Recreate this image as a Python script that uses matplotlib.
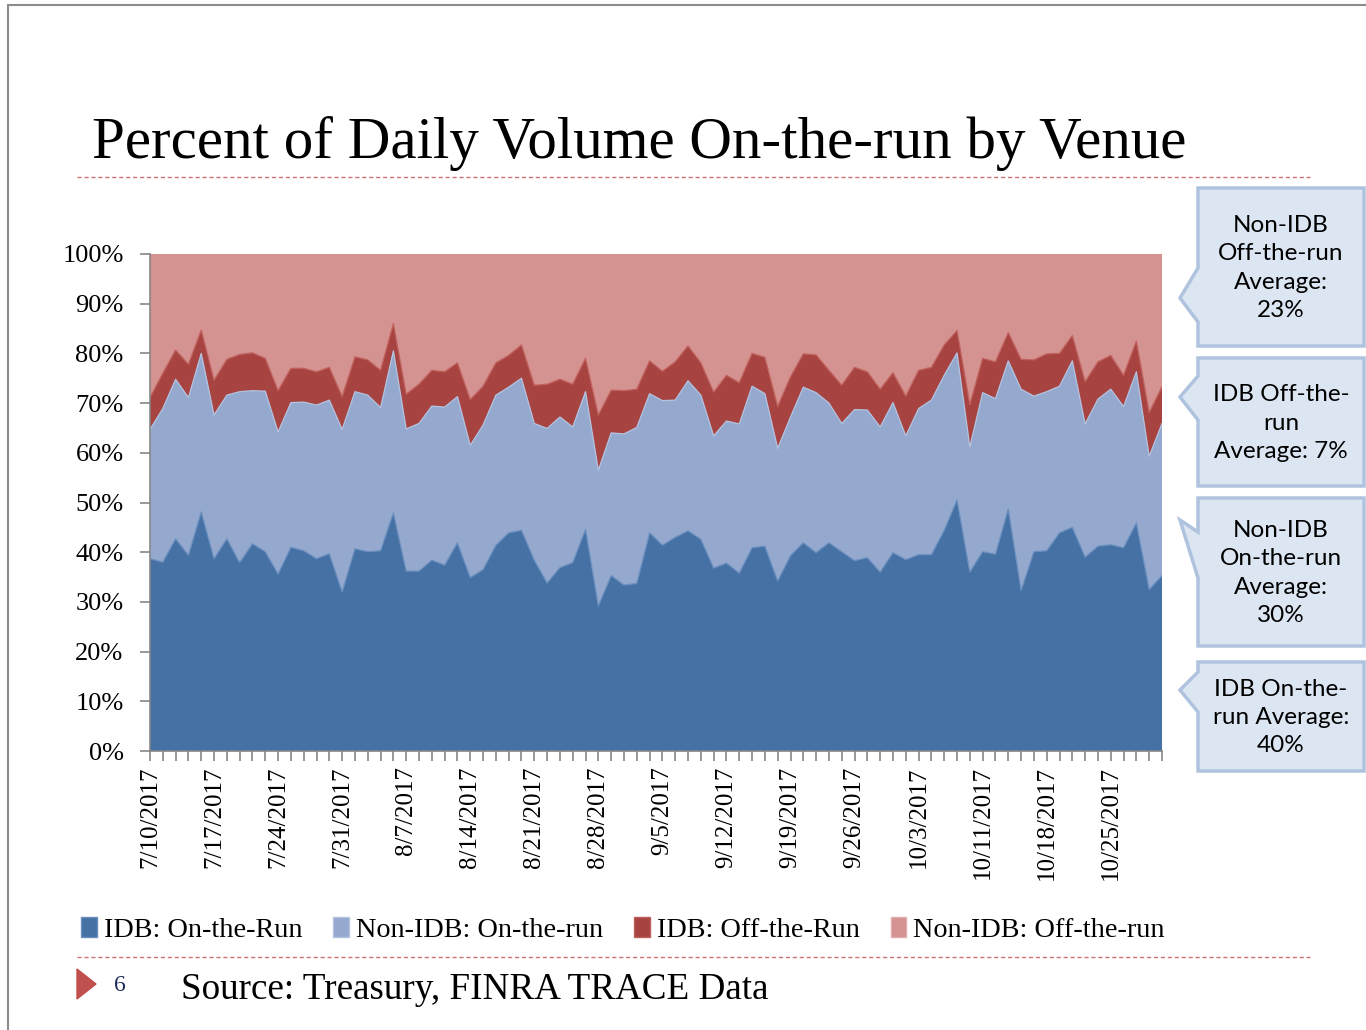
import numpy as np
import pandas as pd
import matplotlib
matplotlib.use("Agg")
import matplotlib.pyplot as plt
from matplotlib.patches import Polygon, Patch

# trading days 7/10/2017 - 10/31/2017 (bond market closed Labor Day, Columbus Day)
dates = pd.bdate_range("2017-07-10", "2017-10-31")
dates = dates[~dates.isin(pd.to_datetime(["2017-09-04", "2017-10-09"]))]

# percent of daily volume
idb_on = [38.7, 38.0, 42.7, 39.4, 48.1, 38.7, 42.7, 37.9, 41.7, 40.1,
          35.6, 41.0, 40.3, 38.7, 39.7, 32.0, 40.7, 40.1, 40.3, 47.9,
          36.2, 36.2, 38.4, 37.4, 41.9, 34.9, 36.5, 41.4, 43.9, 44.4,
          38.4, 33.8, 36.9, 37.9, 44.6, 29.2, 35.3, 33.4, 33.7, 43.9,
          41.4, 43.0, 44.3, 42.6, 36.8, 37.8, 35.8, 40.9, 41.2, 34.2,
          39.3, 41.9, 39.9, 41.9, 40.1, 38.3, 38.9, 36.0, 39.9, 38.5,
          39.5, 39.5, 44.4, 50.5, 36.0, 40.1, 39.6, 48.7, 32.3, 40.1,
          40.3, 43.9, 45.0, 39.0, 41.2, 41.5, 40.9, 45.9, 32.5, 35.3]
nonidb_on = [26.0, 30.9, 32.1, 31.7, 31.9, 28.9, 28.9, 34.4, 30.8, 32.3,
             28.6, 29.1, 29.9, 30.9, 30.9, 32.7, 31.6, 31.5, 28.8, 32.6,
             28.6, 29.7, 31.0, 31.8, 29.4, 26.6, 29.1, 30.2, 29.3, 30.6,
             27.5, 31.1, 30.3, 27.3, 27.7, 27.3, 28.7, 30.4, 31.4, 28.0,
             29.1, 27.6, 30.2, 29.0, 26.6, 28.6, 30.0, 32.5, 30.7, 26.7,
             27.9, 31.3, 32.2, 28.1, 25.8, 30.4, 29.7, 29.2, 30.2, 24.9,
             29.4, 31.1, 31.2, 29.6, 25.2, 32.0, 31.3, 29.8, 40.5, 31.3,
             32.0, 29.5, 33.5, 26.8, 29.6, 31.3, 28.4, 30.4, 26.8, 30.6]
idb_off = [6.4, 7.1, 5.9, 6.7, 4.7, 7.0, 7.2, 7.5, 7.6, 6.6,
           8.3, 6.9, 6.8, 6.7, 6.6, 6.6, 7.0, 7.1, 7.5, 5.5,
           7.0, 7.9, 7.2, 7.1, 6.8, 9.2, 7.8, 6.5, 6.4, 6.7,
           7.7, 8.9, 7.6, 8.6, 6.7, 11.1, 8.6, 8.7, 7.7, 6.6,
           5.9, 7.7, 7.0, 6.5, 8.8, 9.2, 8.3, 6.6, 7.3, 8.4,
           8.1, 6.7, 7.6, 6.6, 7.7, 8.5, 7.7, 7.6, 6.0, 8.0,
           7.7, 6.6, 6.1, 4.5, 8.5, 6.9, 7.4, 5.7, 6.0, 7.3,
           7.6, 6.6, 5.1, 8.5, 7.5, 6.8, 6.3, 6.2, 8.8, 7.4]
nonidb_off = [28.9, 24.0, 19.3, 22.2, 15.3, 25.4, 21.2, 20.2, 19.9, 21.0,
              27.5, 23.0, 23.0, 23.7, 22.8, 28.7, 20.7, 21.3, 23.4, 14.0,
              28.2, 26.2, 23.4, 23.7, 21.9, 29.3, 26.6, 21.9, 20.4, 18.3,
              26.4, 26.2, 25.2, 26.2, 21.0, 32.4, 27.4, 27.5, 27.2, 21.5,
              23.6, 21.7, 18.5, 21.9, 27.8, 24.4, 25.9, 20.0, 20.8, 30.7,
              24.7, 20.1, 20.3, 23.4, 26.4, 22.8, 23.7, 27.2, 23.9, 28.6,
              23.4, 22.8, 18.3, 15.4, 30.3, 21.0, 21.7, 15.8, 21.2, 21.3,
              20.1, 20.0, 16.4, 25.7, 21.7, 20.4, 24.4, 17.5, 31.9, 26.7]

series_names = ["IDB: On-the-Run", "Non-IDB: On-the-run",
                "IDB: Off-the-Run", "Non-IDB: Off-the-run"]
colors = ["#4571A5", "#95A9CF", "#A74441", "#D49291"]
edges = ["#6A8FBF", "#B3C3E0", "#C0605C", "#E2AEAD"]

callout_texts = ["Non-IDB\nOff-the-run\nAverage:\n23%",
                 "IDB Off-the-\nrun\nAverage: 7%",
                 "Non-IDB\nOn-the-run\nAverage:\n30%",
                 "IDB On-the-\nrun Average:\n40%"]

SERIF = "Liberation Serif"

fig = plt.figure(figsize=(13.66, 10.30), dpi=100)

# page overlay in pixel coords for the slide decorations
page = fig.add_axes([0, 0, 1, 1], zorder=0)
page.set_xlim(0, 1366)
page.set_ylim(1030, 0)
page.axis("off")

page.plot([8, 8], [5, 1030], color="#8C8C8C", lw=1.5)
page.plot([8, 1366], [5, 5], color="#8C8C8C", lw=1.5)
page.text(92, 158, "Percent of Daily Volume On-the-run by Venue", family=SERIF,
          fontsize=42.5, va="baseline", ha="left")
for yy in (177, 957):
    page.plot([77, 1310], [yy, yy], color="#C0504D", lw=1, ls=(0, (3, 2)), alpha=0.8)

page.add_patch(Polygon([[77, 969], [77, 999], [96, 984]], closed=True, color="#C0504D"))
page.text(114, 991, "6", family=SERIF, fontsize=17, color="#1F2A5A", va="baseline")
page.text(181, 999, "Source: Treasury, FINRA TRACE Data", family=SERIF,
          fontsize=26.7, va="baseline")

# callout boxes: (top, bottom, pointer top, pointer tip, pointer bottom)
boxes = [(188, 346, 268, 298, 322),
         (358, 486, 376, 397, 420),
         (498, 646, 532, 520, 578),
         (662, 771, 672, 690, 712)]
for (top, bot, p1, tip, p2), txt in zip(boxes, callout_texts):
    shape = [[1198, top], [1364, top], [1364, bot], [1198, bot],
             [1198, p2], [1180, tip], [1198, p1]]
    page.add_patch(Polygon(shape, closed=True, facecolor="#DCE6F2",
                           edgecolor="#AFC3DE", lw=2.5))
    page.text(1281, (top + bot) / 2 + 1, txt, ha="center", va="center",
              family="Lato", fontsize=17.5, linespacing=1.42)

# the chart itself
ax = fig.add_axes([150 / 1366, 1 - 751 / 1030, 1012 / 1366, 497 / 1030], zorder=1)
x = np.arange(len(dates))
ax.stackplot(x, idb_on, nonidb_on, idb_off, nonidb_off, colors=colors,
             edgecolor=None, lw=0)
cum = np.cumsum([idb_on, nonidb_on, idb_off], axis=0)
for row, ec in zip(cum, edges):
    ax.plot(x, row, color=ec, lw=0.9)

ax.set_xlim(0, len(dates) - 1)
ax.set_ylim(0, 100)
ax.set_yticks(range(0, 101, 10))
ax.set_yticklabels([f"{v}%" for v in range(0, 101, 10)], family=SERIF, fontsize=19)
ax.set_xticks(x)
ax.set_xticklabels([f"{d.month}/{d.day}/{d.year}" if i % 5 == 0 else ""
                    for i, d in enumerate(dates)],
                   rotation=90, family=SERIF, fontsize=18)
ax.tick_params(axis="both", color="#868686", length=7, width=1.2)
ax.tick_params(axis="y", pad=12)
ax.tick_params(axis="x", pad=4)
for s in ("top", "right"):
    ax.spines[s].set_visible(False)
for s in ("left", "bottom"):
    ax.spines[s].set_color("#868686")
    ax.spines[s].set_linewidth(1.2)

handles = [Patch(facecolor=c, edgecolor=e) for c, e in zip(colors, edges)]
fig.legend(handles, series_names, loc="center", bbox_to_anchor=(623 / 1366, 1 - 930 / 1030),
           ncol=4, frameon=False, prop={"family": SERIF, "size": 20.3},
           handlelength=0.55, handleheight=0.7, handletextpad=0.25, columnspacing=1.1)

fig.savefig("out.png", dpi=100, facecolor="white")
